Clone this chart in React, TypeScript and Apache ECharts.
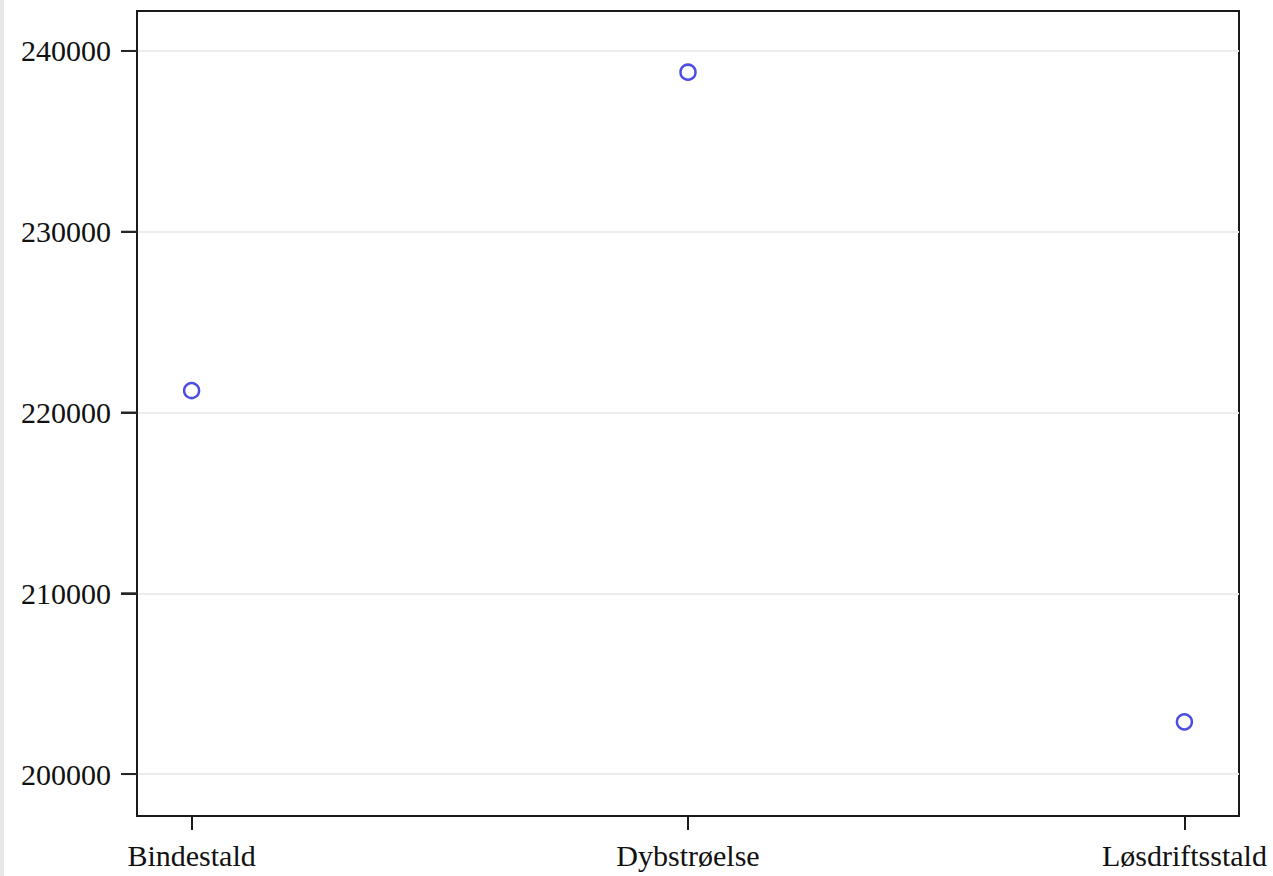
import React, { useEffect, useRef } from "react";
import * as echarts from "echarts";

const categories = ["Bindestald", "Dybstrøelse", "Løsdriftsstald"];
const values = [221215, 238825, 202890];
const yTicks = [200000, 210000, 220000, 230000, 240000];
const yMin = 197680;
const yMax = 242210;

export default function App() {
  const ref = useRef<HTMLDivElement>(null);
  useEffect(() => {
    if (!ref.current) return;
    const chart = echarts.init(ref.current, null, { renderer: "svg" });
    const font = "'Liberation Serif', 'Times New Roman', serif";
    const frame = { color: "#1a1a1a", width: 2 };
    chart.setOption({
      animation: false,
      backgroundColor: "#ffffff",
      graphic: [
        {
          type: "rect",
          left: 0,
          top: 0,
          shape: { x: 0, y: 0, width: 4, height: 876 },
          style: { fill: "#e7e7e5" },
          silent: true,
        },
      ],
      grid: {
        left: 137,
        top: 11,
        right: 34,
        bottom: 60,
        show: true,
        borderColor: "#1a1a1a",
        borderWidth: 2,
        backgroundColor: "transparent",
        containLabel: false,
      },
      xAxis: {
        type: "value",
        min: -0.11,
        max: 2.11,
        axisLine: { show: true, onZero: false, lineStyle: frame },
        splitLine: { show: false },
        axisTick: {
          show: true,
          inside: false,
          customValues: [0, 1, 2],
          length: 14,
          lineStyle: frame,
        },
        axisLabel: {
          show: true,
          customValues: [0, 1, 2],
          formatter: (v: number) => categories[Math.round(v)] ?? "",
          color: "#111",
          fontFamily: font,
          fontSize: 30,
          margin: 24,
        },
      },
      yAxis: {
        type: "value",
        min: yMin,
        max: yMax,
        axisLine: { show: true, onZero: false, lineStyle: frame },
        axisTick: {
          show: true,
          inside: false,
          customValues: yTicks,
          length: 16,
          lineStyle: { color: "#262626", width: 2 },
        },
        axisLabel: {
          show: true,
          customValues: yTicks,
          formatter: (v: number) => String(v),
          color: "#111",
          fontFamily: font,
          fontSize: 30,
          margin: 26,
        },
        splitLine: {
          show: true,
          lineStyle: { color: "#ececec", width: 2 },
        },
      },
      series: [
        {
          type: "custom",
          clip: false,
          silent: true,
          data: yTicks.map((v) => [0, v]),
          encode: { x: 0, y: 1 },
          renderItem: (params: any, api: any) => {
            const p = api.coord([0, api.value(1)]);
            const left = params.coordSys.x;
            return {
              type: "rect",
              shape: { x: left - 16, y: p[1] - 1, width: 17, height: 2 },
              style: { fill: "#262626" },
            };
          },
          z: 5,
        },
        {
          type: "scatter",
          data: values.map((v, i) => [i, v]),
          symbol: "circle",
          symbolSize: 15,
          itemStyle: {
            color: "#ffffff",
            borderColor: "#2020e0",
            borderWidth: 2.5,
          },
        },
      ],
    });
    return () => chart.dispose();
  }, []);
  return (
    <div
      ref={ref}
      style={{ position: "fixed", left: 0, top: 0, width: 1273, height: 876 }}
    />
  );
}
